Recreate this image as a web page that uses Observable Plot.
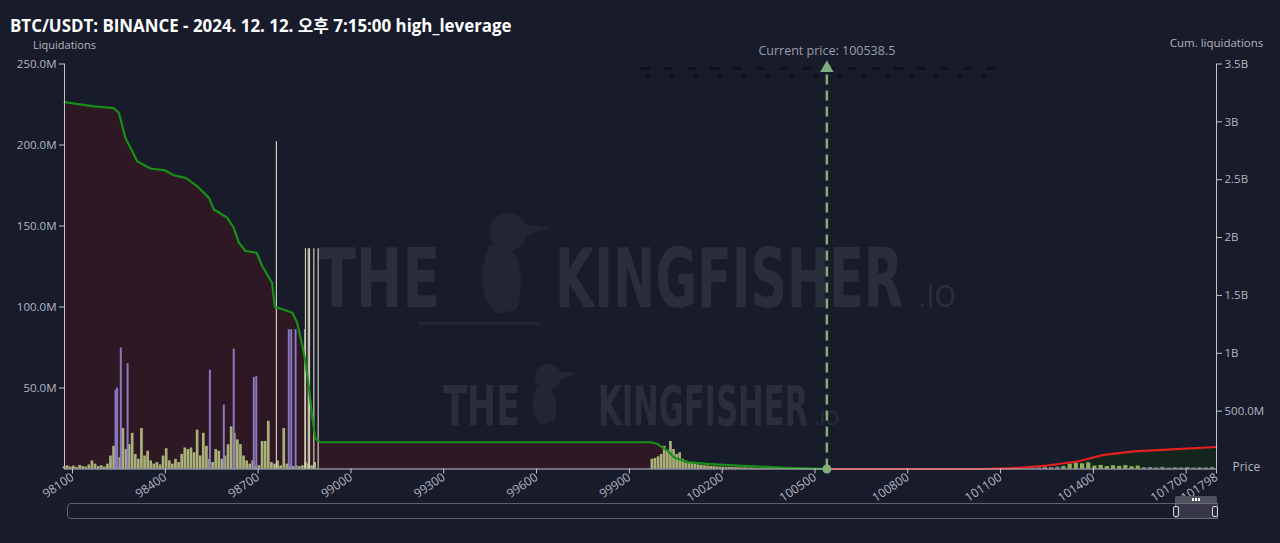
<!DOCTYPE html>
<html><head><meta charset="utf-8">
<script src="https://cdn.jsdelivr.net/npm/d3@7"></script>
<script src="https://cdn.jsdelivr.net/npm/@observablehq/plot@0.6"></script>
<style>
html,body{margin:0;padding:0;background:#171b2a;}
#wrap{position:relative;width:1280px;height:543px;background:#171b2a;overflow:hidden;font-family:'Open Sans','Noto Sans CJK KR','Noto Sans',sans-serif;}
#title{position:absolute;left:10px;top:18px;font-size:16.9px;line-height:15px;font-weight:700;color:#ffffff;white-space:nowrap;font-family:'Open Sans','Noto Sans CJK KR',sans-serif;}
#wm,#chart{position:absolute;left:0;top:0;}
.sl{position:absolute;box-sizing:border-box;}
</style></head>
<body>
<div id="wrap">
  <svg id="wm" width="1280" height="543">
    <g fill="#222634">
      <circle cx="508" cy="232" r="19"/>
      <path d="M522 224 L552 227 L524 236 Z"/>
      <path d="M490 244 C478 270 479 298 496 314 L516 310 C524 290 522 262 512 250 Z"/>
      <path d="M418 322 L540 322 L540 325 L418 325 Z"/>
      <circle cx="548" cy="377" r="13"/>
      <path d="M558 371 L578 373 L560 380 Z"/>
      <path d="M537 386 C530 400 531 416 542 425 L554 421 C558 410 557 396 550 390 Z"/>
    </g>
    <g fill="#2a2e3c" font-family="'DejaVu Sans Condensed','DejaVu Sans',sans-serif" font-weight="bold">
      <text transform="translate(318,307) scale(1,1.47)" font-size="56" textLength="122" lengthAdjust="spacingAndGlyphs">THE</text>
      <text transform="translate(555,307) scale(1,1.47)" font-size="56" textLength="348" lengthAdjust="spacingAndGlyphs">KINGFISHER</text>
      <text x="918" y="307" font-size="30" font-weight="normal">.IO</text>
      <text transform="translate(443,425) scale(1,1.61)" font-size="34" textLength="77" lengthAdjust="spacingAndGlyphs">THE</text>
      <text transform="translate(598,425) scale(1,1.61)" font-size="34" textLength="210" lengthAdjust="spacingAndGlyphs">KINGFISHER</text>
      <text x="814" y="425" font-size="20" font-weight="normal">.IO</text>
    </g>
    <g stroke="#0e1019" stroke-width="2.5">
      <line x1="641" y1="68.5" x2="997" y2="68.5" stroke-dasharray="9,14"/>
      <line x1="646" y1="76" x2="997" y2="76" stroke-dasharray="4,20"/>
    </g>
  </svg>
  <div id="chart"></div>
  <div id="title">BTC/USDT: BINANCE - 2024. 12. 12. 오후 7:15:00 high_leverage</div>
  <div class="sl" style="left:67px;top:503px;width:1151px;height:16px;border:1px solid #5c606d;border-radius:4px;"></div>
  <div class="sl" style="left:1175px;top:503px;width:43px;height:16px;background:#38374a;border:1px solid #6a6d7a;"></div>
  <div class="sl" style="left:1175px;top:496px;width:42px;height:7px;background:#4d505d;border-radius:2px 2px 0 0;"></div>
  <div class="sl" style="left:1192px;top:498px;width:8px;height:3px;border-left:2px solid #fff;border-right:2px solid #fff;"></div>
  <div class="sl" style="left:1195px;top:498px;width:2px;height:3px;background:#fff;"></div>
  <div class="sl" style="left:1173px;top:506px;width:6px;height:11px;border:1px solid #d8d8e0;border-radius:2px;background:#2a2a3a;"></div>
  <div class="sl" style="left:1212px;top:506px;width:6px;height:11px;border:1px solid #d8d8e0;border-radius:2px;background:#2a2a3a;"></div>
</div>
<script>
// ---- data ----
const xDomain = [98074, 101798];
const xTicks = [98100, 98400, 98700, 99000, 99300, 99600, 99900, 100200, 100500, 100800, 101100, 101400, 101700, 101798];
const liqTicks = [50, 100, 150, 200, 250];
const liqLabels = ["50.0M", "100.0M", "150.0M", "200.0M", "250.0M"];
const cumTicks = [0.5, 1, 1.5, 2, 2.5, 3, 3.5];
const cumLabels = ["500.0M", "1B", "1.5B", "2B", "2.5B", "3B", "3.5B"];
const currentPrice = 100538.5;
const binWidth = 10;

// liquidation bars (price, value in M)
const olivePrices = [98075,98085,98095,98105,98115,98125,98135,98145,98155,98165,98175,98185,98195,98205,98215,98225,98235,98245,98255,98265,98275,98285,98295,98305,98315,98325,98335,98345,98355,98365,98375,98385,98395,98405,98415,98425,98435,98445,98455,98465,98475,98485,98495,98505,98515,98525,98535,98545,98555,98565,98575,98585,98595,98605,98615,98625,98635,98645,98655,98665,98675,98685,98695,98705,98715,98725,98735,98745,98755,98765,98775,98785,98795,98805,98815,98825,98835,98845,98855,98865,98875,98885];
const oliveValues = [1.5,2,1.2,1.8,1.0,2.2,1.5,1.2,2.5,5,3,1.5,2,1.2,3,8,14,10,7,25,12,15,22,9,6,25,8,11,5,3,4,2.5,8,12.5,5,3,6,4,9,13,12,13,10,24,8,22,14,6,4,12,11,6,8,15,26,22,18,15,8,5,3,5,2,2,17,17,29.5,4,3,5,2,25,3,2,1.5,2,1.5,2,4,3,2,4];
const midPrices = [99975,99985,99995,100005,100015,100025,100035,100045,100055,100065,100075,100085,100095,100105,100115,100125,100135,100145,100155,100165,100175,100185,100195,100205,100215,100225,100235,100245,100255,100265,100275,100285,100295,100305,100315,100325,100335,100345,100355,100365,100375,100385,100395,100405,100415];
const midValues = [6,6.5,7.5,9,14,11,17,12,9,10,6,5,4,3.5,3,2.5,2.2,2,1.8,1.6,1.5,1.3,1.2,1.1,1,1,0.9,0.8,0.8,0.7,0.7,0.6,0.6,0.6,0.5,0.5,0.5,0.5,0.4,0.4,0.4,0.4,0.4,0.3,0.3];
const rightPrices = [101145,101165,101185,101205,101225,101245,101265,101285,101305,101325,101345,101365,101385,101405,101425,101445,101465,101485,101505,101525,101545,101565,101585,101605,101625,101645,101665,101685,101705,101725,101745,101765,101785];
const rightValues = [0.6,0.8,0.5,0.9,0.7,1.0,0.8,1.2,1.5,3.0,3.6,3.2,3.8,1.8,2.2,1.5,2.0,1.6,2.1,1.4,1.8,0.8,0.9,0.7,1.0,0.6,0.8,0.7,0.9,0.6,0.8,0.7,0.9];
const purplePrices = [98239,98244,98256,98278,98544,98589,98621,98686,98694,98799,98807,98821];
const purpleValues = [48.6,50,74.7,65,61,39.5,74,56.5,57,86,86,86];
const greyPrices = [98759,98851,98853,98862,98866,98880,98894];
const greyValues = [202,86,136,136,136,136,136];

// cumulative liquidations (price, value in B)
const cumLongPrices = [98074,98169,98233,98250,98271,98293,98309,98352,98400,98427,98465,98503,98541,98557,98600,98621,98638,98659,98695,98713,98745,98754,98778,98810,98826,98842,98853,98864,98875,98885,98902,99969,99990,100023,100044,100087,100152,100249,100410,100538.5];
const cumLongValues = [3.171,3.134,3.119,3.076,2.86,2.746,2.66,2.597,2.58,2.539,2.516,2.444,2.343,2.243,2.171,2.085,1.955,1.884,1.869,1.754,1.61,1.401,1.381,1.352,1.266,1.079,0.921,0.705,0.447,0.26,0.231,0.231,0.217,0.159,0.102,0.059,0.045,0.03,0.01,0];
const cumShortPrices = [100538.5,101036,101143,101251,101348,101434,101531,101639,101798];
const cumShortValues = [0,0,0.007,0.03,0.065,0.122,0.153,0.168,0.19];

// ---- build ----
const k = 250 / 3.5; // B -> left-axis units (M)
const zip = (ps, vs) => ps.map((p, i) => ({p, v: vs[i]}));
const oliveLeft = zip(olivePrices, oliveValues);
const oliveMid = zip(midPrices, midValues);
const oliveRight = zip(rightPrices, rightValues);
const purple = zip(purplePrices, purpleValues);
const grey = zip(greyPrices, greyValues);
const cumLong = zip(cumLongPrices, cumLongValues);
const cumShort = zip(cumShortPrices, cumShortValues);

const axisColor = "#c3c5ce";
const textColor = "#b3b6c1";
const priceColor = "#7fae7c";

const chart = Plot.plot({
  width: 1280, height: 543,
  marginTop: 63.5, marginBottom: 74.5, marginLeft: 64, marginRight: 64,
  style: {background: "transparent", color: textColor, fontFamily: "'Open Sans','Noto Sans',sans-serif", fontSize: "11.5px", overflow: "visible"},
  x: {type: "linear", domain: xDomain},
  y: {domain: [0, 250]},
  marks: [
    Plot.areaY(cumLong, {x: "p", y: d => d.v * k, fill: "#2d1823"}),
    Plot.areaY(cumShort, {x: "p", y: d => d.v * k, fill: "#14251d"}),
    Plot.rectY(oliveLeft, {x1: d => d.p - binWidth / 2, x2: d => d.p + binWidth / 2, y: "v", fill: "#a8b17a", insetRight: 0.4}),
    Plot.rectY(oliveMid, {x1: d => d.p - binWidth / 2, x2: d => d.p + binWidth / 2, y: "v", fill: "#a8b17a", insetRight: 0.4}),
    Plot.rectY(oliveRight, {x1: d => d.p - binWidth, x2: d => d.p + binWidth, y: "v", fill: d => d.v > 1.2 ? "#8fb15c" : "#7d8590", insetLeft: 1, insetRight: 1}),
    Plot.ruleX(purple, {x: "p", y1: 0, y2: "v", stroke: "#8a78c0", strokeWidth: 2}),
    Plot.ruleX(grey, {x: "p", y1: 0, y2: "v", stroke: "#cfccb4", strokeWidth: 1.2}),
    Plot.line(cumLong, {x: "p", y: d => d.v * k, stroke: "#169016", strokeWidth: 2.2}),
    Plot.line(cumShort, {x: "p", y: d => d.v * k, stroke: "#e3211f", strokeWidth: 2.2}),
    Plot.ruleY([0], {stroke: axisColor, strokeWidth: 1}),
    Plot.ruleX(xDomain, {stroke: axisColor, strokeWidth: 1}),
    Plot.axisX({ticks: xTicks, tickFormat: d => String(d), tickRotate: -34, tickSize: 5, tickPadding: 2, stroke: axisColor, fill: textColor, label: null, fontSize: 12}),
    Plot.axisY({anchor: "left", ticks: liqTicks, tickFormat: (d, i) => liqLabels[i], tickSize: 5, tickPadding: 3, stroke: axisColor, fill: textColor, label: null}),
    Plot.axisY({anchor: "right", ticks: cumTicks.map(v => v * k), tickFormat: (d, i) => cumLabels[i], tickSize: 5, tickPadding: 3, stroke: axisColor, fill: textColor, label: null}),
    Plot.ruleX([currentPrice], {x: d => d, y1: 0, y2: 248, stroke: priceColor, strokeWidth: 2.5, strokeDasharray: "10,6"}),
    Plot.dot([currentPrice], {x: d => d, y: 0, r: 4.5, fill: priceColor}),
    Plot.dot([currentPrice], {x: d => d, y: 250, symbol: "triangle", r: 5, fill: priceColor, dy: 4}),
    Plot.text([currentPrice], {x: d => d, frameAnchor: "top", lineAnchor: "middle", dy: -13.5, text: d => `Current price: ${d}`, fill: "#9b9eab", fontSize: 12.5}),
    Plot.text(["Liquidations"], {frameAnchor: "top-left", lineAnchor: "middle", dy: -19, textAnchor: "middle", fill: textColor, fontSize: 11}),
    Plot.text(["Cum. liquidations"], {frameAnchor: "top-right", lineAnchor: "middle", dy: -21, textAnchor: "middle", fill: textColor, fontSize: 11.5}),
    Plot.text(["Price"], {frameAnchor: "bottom-right", lineAnchor: "middle", dx: 16, dy: -1.5, textAnchor: "start", fill: textColor, fontSize: 12})
  ]
});
document.getElementById("chart").appendChild(chart);
</script>
</body></html>
